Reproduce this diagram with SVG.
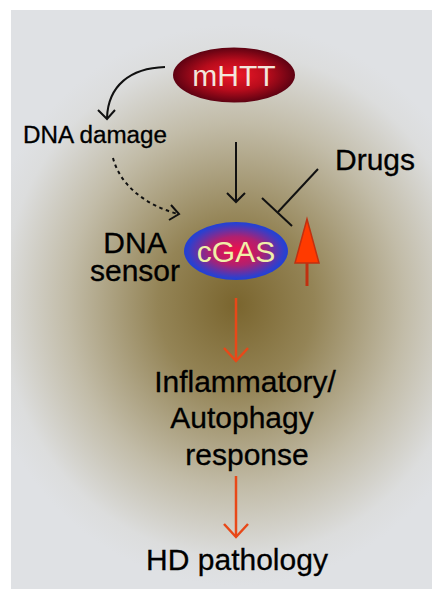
<svg xmlns="http://www.w3.org/2000/svg" width="442" height="597" viewBox="0 0 442 597">
<defs>
<radialGradient id="bg" gradientUnits="userSpaceOnUse" cx="236" cy="305" r="260" gradientTransform="translate(236 305) scale(1 1.08) translate(-236 -305)">
<stop offset="0" stop-color="#7a652e"/>
<stop offset="0.3" stop-color="#948456"/>
<stop offset="0.65" stop-color="#c2bca8"/>
<stop offset="0.9" stop-color="#dcdddd"/>
<stop offset="1" stop-color="#dfe1e4"/>
</radialGradient>
<radialGradient id="gm" cx="0.5" cy="0.5" r="0.55">
<stop offset="0" stop-color="#f01828"/>
<stop offset="0.5" stop-color="#b80c1c"/>
<stop offset="1" stop-color="#4a0010"/>
</radialGradient>
<radialGradient id="gc" cx="0.5" cy="0.5" r="0.55">
<stop offset="0" stop-color="#f0104a"/>
<stop offset="0.45" stop-color="#b02070"/>
<stop offset="0.85" stop-color="#2a40d0"/>
<stop offset="1" stop-color="#1a3ed8"/>
</radialGradient>
<style>
.t{font-family:"Liberation Sans",Arial,sans-serif;fill:#000;stroke:#000;stroke-width:0.3}
.k{fill:none;stroke:#111;stroke-width:2}
.o{fill:none;stroke:#e84818;stroke-width:2.5}
</style>
</defs>
<rect x="0" y="0" width="442" height="597" fill="#ffffff"/>
<rect x="11" y="10" width="421" height="579" fill="url(#bg)"/>
<g id="connectors">
<path class="k" d="M165,67 C130,68 108,86 107,118"/>
<path class="k" d="M98,110 L107,119 L115,110"/>
<path class="k" d="M113,158 C120,185 145,205 178,214" stroke-dasharray="3.5,3.5" stroke-width="2.2"/>
<path class="k" d="M171,205 L179,214 L169,220"/>
<path class="k" d="M236,142 L236,202"/>
<path class="k" d="M227,193 L236,202 L245,193"/>
<path class="k" d="M318,169 L278,212"/>
<path class="k" d="M262,198 L292,226"/>
<path class="o" d="M236,298 L236,361"/>
<path class="o" d="M224,348 L236,361 L248,348"/>
<path class="o" d="M236,476 L236,537"/>
<path class="o" d="M224,524 L236,537 L248,524"/>
<line x1="307" y1="262" x2="307" y2="286" stroke="#c03010" stroke-width="3"/>
<polygon points="307,219 295,263 319,263" fill="#ff3a00" stroke="#c03010" stroke-width="1.5"/>
</g>
<g id="mHTT">
<ellipse cx="234" cy="75" rx="61" ry="27.5" fill="url(#gm)"/>
<text class="t" x="234" y="86" font-size="30" text-anchor="middle" style="fill:#f2e6dc;stroke:none">mHTT</text>
</g>
<g id="dna-damage">
<text class="t" x="23" y="143" font-size="23" textLength="144" lengthAdjust="spacingAndGlyphs">DNA damage</text>
</g>
<g id="drugs">
<text class="t" x="335" y="170" font-size="30">Drugs</text>
</g>
<g id="cGAS">
<ellipse cx="236" cy="251" rx="52" ry="29" fill="url(#gc)"/>
<text class="t" x="236" y="262" font-size="30" text-anchor="middle" style="fill:#f0f0a8;stroke:none">cGAS</text>
</g>
<g id="dna-sensor">
<text class="t" x="135" y="253" font-size="30" text-anchor="middle">DNA</text>
<text class="t" x="135" y="281" font-size="30" text-anchor="middle">sensor</text>
</g>
<g id="response">
<text class="t" x="245" y="392" font-size="30" text-anchor="middle">Inflammatory/</text>
<text class="t" x="242" y="428" font-size="30" text-anchor="middle">Autophagy</text>
<text class="t" x="247" y="465" font-size="30" text-anchor="middle">response</text>
</g>
<g id="hd-pathology">
<text class="t" x="237" y="570" font-size="30" text-anchor="middle">HD pathology</text>
</g>
</svg>
